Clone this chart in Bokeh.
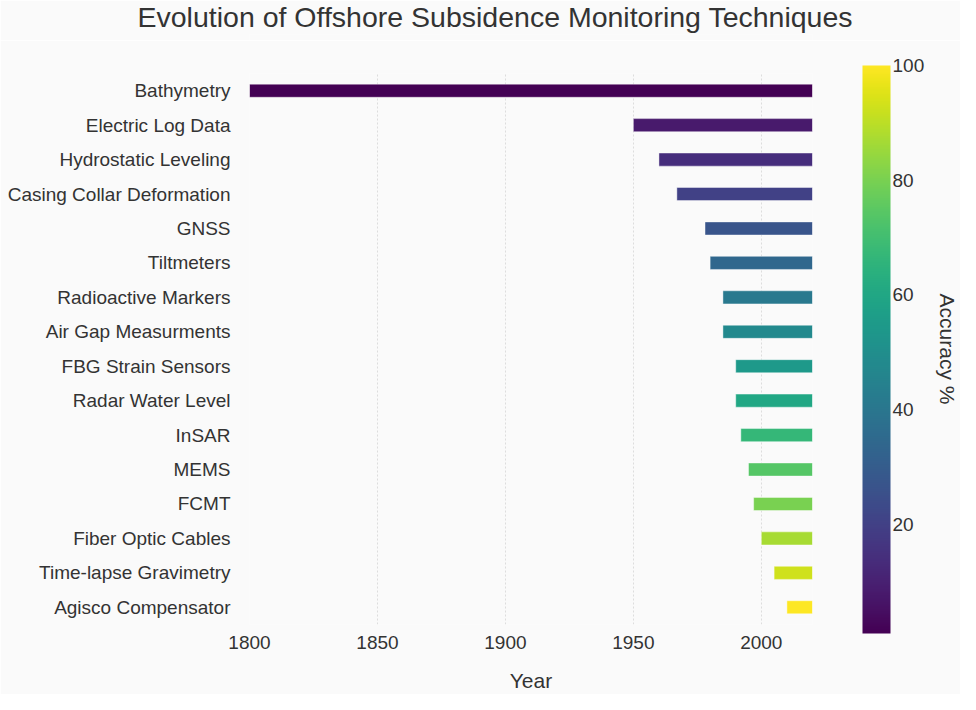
from bokeh.plotting import figure
from bokeh.layouts import column
from bokeh.models import (ColumnDataSource, LinearColorMapper, ColorBar, FixedTicker,
                          Range1d, FactorRange, Title)
from bokeh.palettes import Viridis256
from bokeh.transform import linear_cmap
from bokeh.embed import file_html
from bokeh.resources import INLINE

techniques = ["Bathymetry", "Electric Log Data", "Hydrostatic Leveling",
              "Casing Collar Deformation", "GNSS", "Tiltmeters", "Radioactive Markers",
              "Air Gap Measurments", "FBG Strain Sensors", "Radar Water Level", "InSAR",
              "MEMS", "FCMT", "Fiber Optic Cables", "Time-lapse Gravimetry",
              "Agisco Compensator"]
start_years = [1800, 1950, 1960, 1967, 1978, 1980, 1985, 1985, 1990, 1990, 1992,
               1995, 1997, 2000, 2005, 2010]
end_years = [2020] * 16
accuracy = [1, 8, 14, 20, 27, 34, 41, 48, 54, 60, 67, 74, 80, 87, 93, 100]
x_ticks = [1800, 1850, 1900, 1950, 2000]
cbar_ticks = [20, 40, 60, 80, 100]
chart_title = "Evolution of Offshore Subsidence Monitoring Techniques"

FONT = "Liberation Sans"
TXT = "#333333"
BG = "#fafafa"
W = 960
TOP_H = 40
LEFT = 249
RIGHT = 148

# --- title strip ---
t = figure(width=W, height=TOP_H, output_backend="svg", toolbar_location=None,
           x_range=Range1d(0, 1), y_range=Range1d(0, 1),
           x_axis_location=None, y_axis_location=None,
           min_border_left=LEFT, min_border_right=RIGHT, min_border_top=0,
           min_border_bottom=0)
t.background_fill_color = BG
t.border_fill_color = BG
t.outline_line_color = None
t.grid.visible = False
t.title.text = chart_title
t.title.text_font = FONT
t.title.text_font_size = "28.5px"
t.title.text_font_style = "normal"
t.title.text_color = TXT
t.title.align = "left"
t.title.offset = -112
t.title.standoff = 0
t.title.vertical_align = "top"

# --- main chart ---
src = ColumnDataSource(dict(task=techniques, start=start_years, end=end_years, acc=accuracy))

p = figure(width=W, height=694 - TOP_H, output_backend="svg", toolbar_location=None,
           y_range=FactorRange(*reversed(techniques)),
           x_range=Range1d(1800, 2020),
           min_border_left=LEFT, min_border_right=RIGHT, min_border_top=73 - TOP_H,
           min_border_bottom=69)

p.background_fill_color = BG
p.border_fill_color = BG
p.outline_line_color = None

mapper = LinearColorMapper(palette=Viridis256, low=min(accuracy), high=max(accuracy))

p.hbar(y="task", left="start", right="end", height=0.38, source=src,
       fill_color=linear_cmap("acc", Viridis256, min(accuracy), max(accuracy)),
       line_color="white", line_width=0.7, line_alpha=0.6)

p.xaxis.ticker = FixedTicker(ticks=x_ticks)
p.xaxis.axis_label = "Year"
p.xaxis.axis_label_text_font = FONT
p.xaxis.axis_label_text_font_size = "21px"
p.xaxis.axis_label_text_font_style = "normal"
p.xaxis.axis_label_text_color = TXT
p.xaxis.axis_label_standoff = 17
p.xaxis.major_label_text_font = FONT
p.xaxis.major_label_text_font_size = "19px"
p.xaxis.major_label_text_color = TXT
p.xaxis.major_label_standoff = 5

for ax in (p.xaxis, p.yaxis):
    ax.axis_line_color = None
    ax.major_tick_line_color = None
    ax.minor_tick_line_color = None

p.yaxis.major_label_text_font = FONT
p.yaxis.major_label_text_font_size = "19px"
p.yaxis.major_label_text_color = TXT
p.yaxis.major_label_standoff = 13

p.xgrid.grid_line_color = "#dddddd"
p.xgrid.grid_line_dash = "2 2"
p.ygrid.grid_line_color = None

cbar = ColorBar(color_mapper=mapper, ticker=FixedTicker(ticks=cbar_ticks),
                width=28, height=568, padding=15, margin=0, location=(35, -24),
                bar_line_color=None, major_tick_line_color=None,
                major_label_text_font=FONT, major_label_text_font_size="19px",
                major_label_text_color=TXT, label_standoff=2,
                background_fill_color=BG, background_fill_alpha=0,
                border_line_color=None)
p.add_layout(cbar, "right")

ctitle = Title(text="Accuracy %", text_font=FONT, text_font_size="21px",
               text_font_style="normal", text_color=TXT, align="center", standoff=-13)
p.add_layout(ctitle, "right")

layout = column(t, p, spacing=0)
open("out.html", "w").write(file_html(layout, INLINE))
